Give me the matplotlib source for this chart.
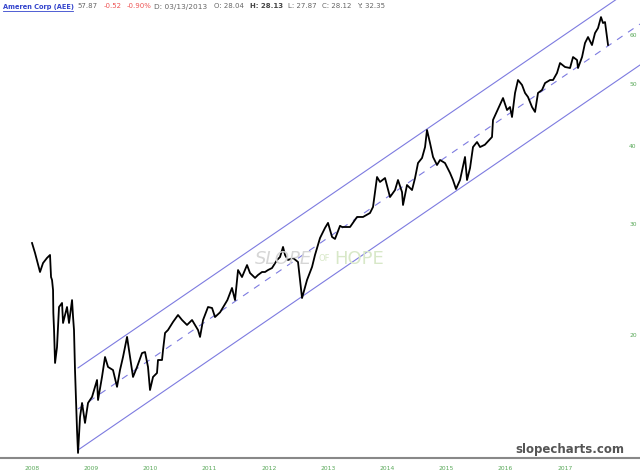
import matplotlib
matplotlib.use("Agg")
import matplotlib.pyplot as plt
import matplotlib.transforms as mtransforms

# price path (decimal chart-years, price)
years = [2008.000, 2008.051, 2008.135, 2008.186, 2008.253, 2008.304, 2008.321, 2008.338,
         2008.355, 2008.360, 2008.372, 2008.389, 2008.422, 2008.456, 2008.507, 2008.524,
         2008.591, 2008.625, 2008.676, 2008.693, 2008.709, 2008.726, 2008.760, 2008.777,
         2008.811, 2008.845, 2008.895, 2008.946, 2009.014, 2009.064, 2009.098, 2009.115,
         2009.182, 2009.233, 2009.284, 2009.368, 2009.436, 2009.486, 2009.537, 2009.605,
         2009.655, 2009.706, 2009.774, 2009.858, 2009.909, 2009.959, 2009.993, 2010.044,
         2010.111, 2010.128, 2010.196, 2010.213, 2010.247, 2010.297, 2010.382, 2010.466,
         2010.534, 2010.618, 2010.703, 2010.753, 2010.804, 2010.838, 2010.889, 2010.973,
         2011.041, 2011.091, 2011.176, 2011.300, 2011.378, 2011.429, 2011.480, 2011.547,
         2011.632, 2011.682, 2011.767, 2011.818, 2011.885, 2011.936, 2011.986, 2012.054,
         2012.139, 2012.189, 2012.240, 2012.274, 2012.324, 2012.409, 2012.493, 2012.527,
         2012.561, 2012.645, 2012.730, 2012.780, 2012.865, 2012.949, 2013.000, 2013.068,
         2013.118, 2013.203, 2013.236, 2013.372, 2013.490, 2013.591, 2013.709, 2013.760,
         2013.828, 2013.878, 2013.963, 2014.047, 2014.132, 2014.182, 2014.250, 2014.267,
         2014.334, 2014.419, 2014.470, 2014.520, 2014.588, 2014.639, 2014.672, 2014.723,
         2014.774, 2014.841, 2014.892, 2014.976, 2015.061, 2015.111, 2015.162, 2015.230,
         2015.314, 2015.348, 2015.399, 2015.449, 2015.517, 2015.568, 2015.650, 2015.770,
         2015.787, 2015.956, 2016.024, 2016.074, 2016.108, 2016.159, 2016.209, 2016.277,
         2016.328, 2016.378, 2016.446, 2016.497, 2016.547, 2016.615, 2016.666, 2016.750,
         2016.801, 2016.868, 2016.919, 2017.003, 2017.088, 2017.139, 2017.206, 2017.223,
         2017.291, 2017.341, 2017.392, 2017.459, 2017.510, 2017.561, 2017.611, 2017.645,
         2017.679, 2017.713, 2017.730]
prices = [28.08, 27.07, 25.26, 26.10, 26.59, 26.88, 24.80, 24.53,
          23.65, 21.76, 20.44, 18.12, 19.21, 22.23, 22.56, 20.97,
          22.23, 20.97, 22.80, 21.43, 20.44, 17.66, 14.19, 13.05,
          14.88, 15.66, 14.56, 15.66, 16.01, 16.61, 17.03, 15.83,
          17.22, 18.52, 17.86, 17.66, 16.61, 17.66, 18.52, 19.93,
          18.52, 17.22, 17.86, 18.79, 18.86, 17.86, 16.42, 17.22,
          17.47, 18.32, 18.32, 19.00, 20.22, 20.44, 21.05, 21.59,
          21.20, 20.82, 21.20, 20.82, 20.44, 19.93, 21.20, 22.23,
          22.15, 21.43, 21.80, 22.80, 23.83, 22.80, 25.44, 24.80,
          25.91, 25.17, 24.72, 24.99, 25.26, 25.26, 25.44, 25.63,
          26.39, 26.68, 27.68, 26.88, 26.39, 26.59, 26.20, 24.53,
          22.97, 24.53, 25.73, 26.88, 28.60, 29.67, 30.22, 28.71,
          28.50, 29.90, 29.77, 29.77, 30.88, 30.88, 31.33, 32.03,
          35.73, 35.09, 35.60, 33.21, 34.07, 35.34, 33.82, 32.26,
          34.70, 34.07, 35.60, 37.60, 38.30, 39.86, 42.42, 40.45,
          38.44, 37.33, 38.02, 37.60, 36.26, 35.34, 34.20, 35.34,
          38.44, 35.34, 36.92, 39.86, 40.60, 39.86, 40.20, 41.35,
          44.00, 47.67, 45.63, 46.13, 44.48, 48.56, 50.91, 50.00,
          48.56, 47.85, 46.13, 45.31, 48.56, 49.09, 50.35, 50.91,
          50.91, 52.23, 54.17, 53.39, 53.19, 55.37, 54.77, 53.19,
          55.37, 58.27, 59.56, 57.84, 60.43, 61.54, 64.06, 62.68,
          62.91, 59.56, 57.87]

# regression channel end points
channel_x = [2008.777, 2018.27]
channel_upper = [17.80, 72.5]
channel_mid = [15.32, 62.45]
channel_lower = [13.19, 53.78]

year_ticks = list(range(2008, 2018))
price_ticks = [20, 30, 40, 50, 60]

fig = plt.figure(figsize=(6.4, 4.76), dpi=100)
ax = fig.add_axes([0, 18 / 476, 1, 458 / 476])
ax.set_yscale("log")
ax.set_xlim(2007.459, 2018.27)
ax.set_ylim(12.81, 68.18)

chan_col = "#7d7be0"
ax.plot(channel_x, channel_upper, color=chan_col, lw=0.8)
ax.plot(channel_x, channel_lower, color=chan_col, lw=0.8)
ax.plot(channel_x, channel_mid, color=chan_col, lw=0.8, ls=(0, (6, 6)))

ax.plot(years, prices, color="black", lw=1.3)

for s in ["top", "left", "right"]:
    ax.spines[s].set_visible(False)
ax.spines["bottom"].set_color("#888888")
ax.spines["bottom"].set_linewidth(1.5)

green = "#58a858"
ax.set_xticks(year_ticks)
ax.set_xticklabels([str(y) for y in year_ticks])
ax.tick_params(axis="x", length=0, pad=6, labelsize=4.3, labelcolor=green)
ax.set_yticks([])
ax.yaxis.set_minor_locator(matplotlib.ticker.NullLocator())
trans = mtransforms.blended_transform_factory(ax.transAxes, ax.transData)
for p in price_ticks:
    ax.text(0.989, p, str(p), transform=trans, ha="center", va="center",
            fontsize=4.3, color=green)

# watermark
ax.text(284 / 640, 0.435, "SLOPE", transform=ax.transAxes, fontsize=13, color="#d6d6d6",
        ha="center", va="center", style="italic")
ax.text(324 / 640, 0.435, "OF", transform=ax.transAxes, fontsize=6, color="#d8e8c8",
        ha="center", va="center")
ax.text(359 / 640, 0.435, "HOPE", transform=ax.transAxes, fontsize=13, color="#d8e8c8",
        ha="center", va="center")

fig.text(624 / 640, 1 - 449 / 476, "slopecharts.com", ha="right", va="center",
         fontsize=8.5, fontweight="bold", color="#555555")

# header line
hy = 1 - 6.5 / 476
hs = 5
fig.text(3 / 640, hy, "Ameren Corp (AEE)", fontsize=4.8, color="#3344cc",
         fontweight="bold", va="center")
fig.add_artist(plt.Line2D([3 / 640, 73 / 640], [1 - 11 / 476] * 2, color="#3344cc", lw=0.6))
fig.text(77 / 640, hy, "57.87", fontsize=hs, color="#666666", va="center")
fig.text(104 / 640, hy, "-0.52", fontsize=hs, color="#ee5555", va="center")
fig.text(127 / 640, hy, "-0.90%", fontsize=hs, color="#ee5555", va="center")
fig.text(154 / 640, hy, "D: 03/13/2013", fontsize=5.3, color="#666666", va="center")
fig.text(214 / 640, hy, "O: 28.04", fontsize=hs, color="#666666", va="center")
fig.text(250 / 640, hy, "H: 28.13", fontsize=hs, color="#444444", fontweight="bold", va="center")
fig.text(288 / 640, hy, "L: 27.87", fontsize=hs, color="#666666", va="center")
fig.text(322 / 640, hy, "C: 28.12", fontsize=hs, color="#666666", va="center")
fig.text(357 / 640, hy, "Y: 32.35", fontsize=hs, color="#666666", va="center")

fig.savefig("out.png", dpi=100)
